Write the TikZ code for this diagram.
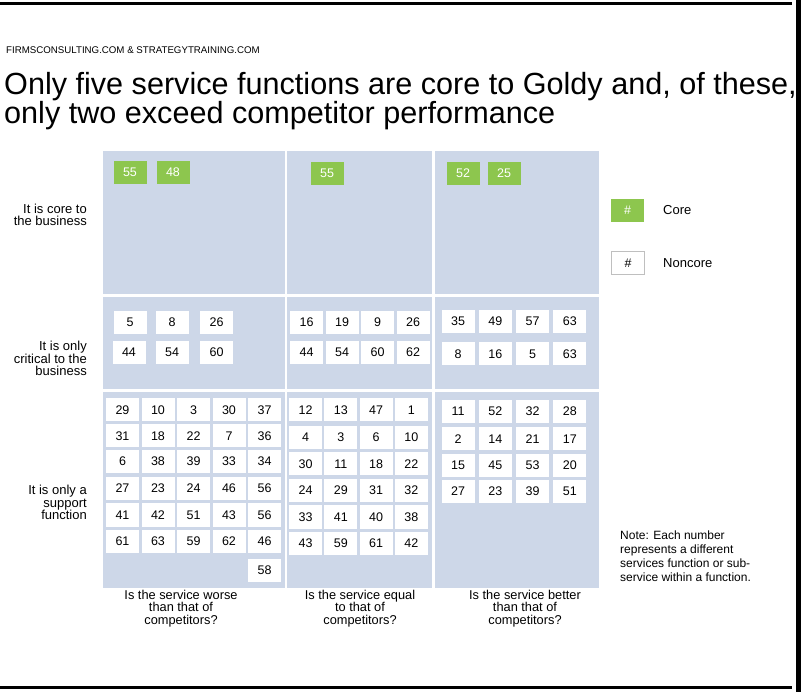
\documentclass[tikz,border=0pt]{standalone}
\usepackage{fontspec}
\setmainfont{Liberation Sans}
\definecolor{panelc}{RGB}{205,215,232}
\definecolor{greenc}{RGB}{141,198,78}
\tikzset{
  panel/.style={fill=panelc, draw=none},
  numbox/.style={rectangle, minimum width=33pt, minimum height=23pt, inner sep=0pt, font=\fontsize{12.5}{12.5}\selectfont},
  core/.style={numbox, fill=greenc, text=white},
  nc/.style={numbox, fill=white},
  rowlab/.style={anchor=east, align=right, inner sep=0pt, font=\fontsize{13}{12.5}\selectfont},
  collab/.style={anchor=center, align=center, inner sep=0pt, font=\fontsize{12.8}{12.5}\selectfont},
  rule/.style={line width=3pt, draw=black}
}
\begin{document}
\begin{tikzpicture}[x=1pt,y=-1pt]
\useasboundingbox (0,0) rectangle (801,692);
% frame lines
\draw[rule] (0,4) -- (792,4);
\draw[rule] (0,687.5) -- (792,687.5);
\draw[line width=5pt] (798.5,0) -- (798.5,692);
% header and title
\node[anchor=west, inner sep=0pt, font=\fontsize{9.7}{10}\selectfont] (hdr) at (6,50) {FIRMSCONSULTING.COM \& STRATEGYTRAINING.COM};
\node[anchor=north west, align=left, inner sep=0pt, font=\fontsize{30.6}{29.5}\selectfont] (title) at (4,72) {Only five service functions are core to Goldy and, of these,\\only two exceed competitor performance};
% panels
\fill[panel] (102.5,151.5) rectangle (284.5,294);
\fill[panel] (287,151.5) rectangle (432,294);
\fill[panel] (435,151.5) rectangle (598.5,294);
\fill[panel] (102.5,297) rectangle (284.5,389);
\fill[panel] (287,297) rectangle (432,389);
\fill[panel] (435,297) rectangle (598.5,389);
\fill[panel] (102.5,392) rectangle (284.5,588);
\fill[panel] (287,392) rectangle (432,588);
\fill[panel] (435,392) rectangle (598.5,588);
% core boxes
\node[core] (g1) at (130,172.5) {55};
\node[core] (g2) at (173,172.5) {48};
\node[core] (g3) at (327,173.5) {55};
\node[core] (g4) at (463,173.5) {52};
\node[core] (g5) at (504,173.5) {25};
% row 2, column 1
\node[nc] (b1a) at (130,322.5) {5};
\node[nc] (b1b) at (172,322.5) {8};
\node[nc] (b1c) at (216.5,322.5) {26};
\node[nc] (b1d) at (129,352.5) {44};
\node[nc] (b1e) at (172,352.5) {54};
\node[nc] (b1f) at (216.5,352.5) {60};
% row 2, column 2
\foreach \yy/\vals [count=\r] in {322.5/{16,19,9,26}, 352.5/{44,54,60,62}}{
  \foreach \v [count=\c] in \vals {
    \node[nc] (b2-\r-\c) at ({306.5+(\c-1)*35.5},\yy) {\v};
  }
}
% row 2, column 3
\foreach \yy/\vals [count=\r] in {321.5/{35,49,57,63}, 354/{8,16,5,63}}{
  \foreach \v [count=\c] in \vals {
    \node[nc] (b3-\r-\c) at ({458+(\c-1)*37.3},\yy) {\v};
  }
}
% row 3, column 1
\foreach \yy/\vals [count=\r] in {410/{29,10,3,30,37}, 436/{31,18,22,7,36}, 461.5/{6,38,39,33,34}, 488.5/{27,23,24,46,56}, 515/{41,42,51,43,56}, 541/{61,63,59,62,46}}{
  \foreach \v [count=\c] in \vals {
    \node[nc] (c1-\r-\c) at ({122.5+(\c-1)*35.5},\yy) {\v};
  }
}
\node[nc] (c1-7-5) at (264.5,570) {58};
% row 3, column 2
\foreach \yy/\vals [count=\r] in {410/{12,13,47,1}, 437.5/{4,3,6,10}, 464/{30,11,18,22}, 490.5/{24,29,31,32}, 517/{33,41,40,38}, 543.5/{43,59,61,42}}{
  \foreach \v [count=\c] in \vals {
    \node[nc] (c2-\r-\c) at ({305.5+(\c-1)*35.3},\yy) {\v};
  }
}
% row 3, column 3
\foreach \yy/\vals [count=\r] in {411.5/{11,52,32,28}, 439/{2,14,21,17}, 465.5/{15,45,53,20}, 491.5/{27,23,39,51}}{
  \foreach \v [count=\c] in \vals {
    \node[nc] (c3-\r-\c) at ({458+(\c-1)*37.3},\yy) {\v};
  }
}
% row labels
\node[rowlab] (rl1) at (87,215) {It is core to\\the business};
\node[rowlab] (rl2) at (87,358.5) {It is only\\critical to the\\business};
\node[rowlab] (rl3) at (87,502.5) {It is only a\\support\\function};
% column labels
\node[collab] (cl1) at (181,608.5) {Is the service worse\\than that of\\competitors?};
\node[collab] (cl2) at (360,608.5) {Is the service equal\\to that of\\competitors?};
\node[collab] (cl3) at (525,608.5) {Is the service better\\than that of\\competitors?};
% legend
\node[core] (lg1) at (627.5,210.5) {\#};
\node[anchor=west, inner sep=0pt, font=\fontsize{13}{13}\selectfont] (lt1) at (663,210.5) {Core};
\node[nc, draw=black!25, line width=1pt] (lg2) at (628,263.5) {\#};
\node[anchor=west, inner sep=0pt, font=\fontsize{13}{13}\selectfont] (lt2) at (663,263.5) {Noncore};
% note
\node[anchor=west, align=left, inner sep=0pt, font=\fontsize{12}{14}\selectfont] (note) at (620,556) {Note: Each number\\represents a different\\services function or sub-\\service within a function.};
\end{tikzpicture}
\end{document}
